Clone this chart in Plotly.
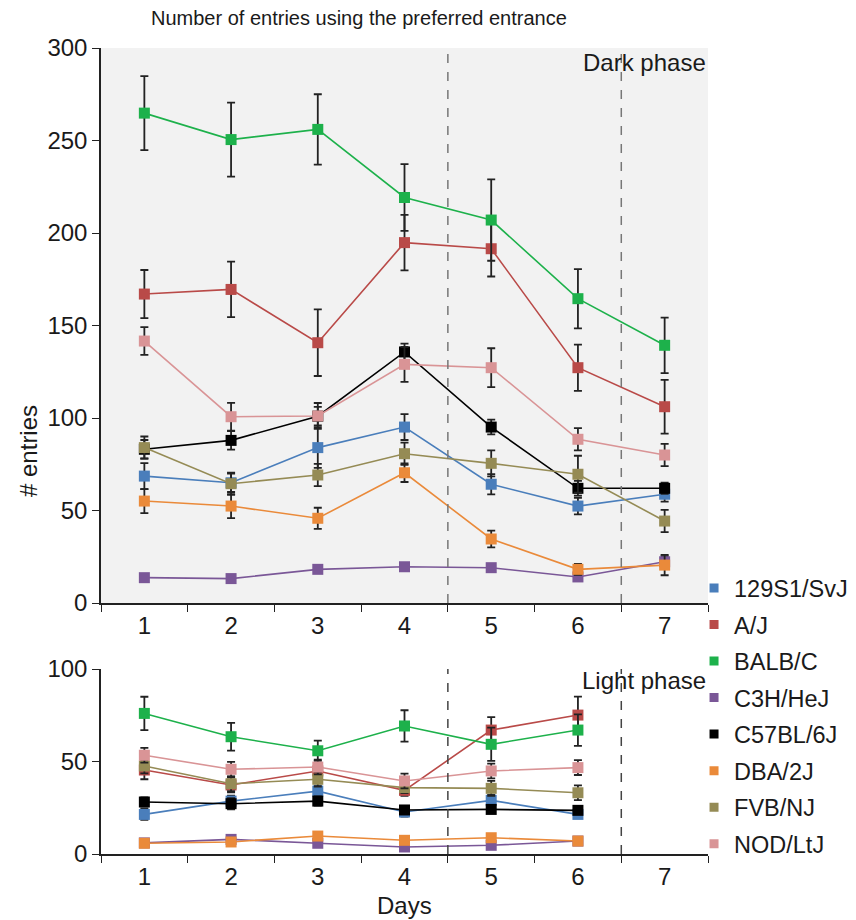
import plotly.graph_objects as go
from plotly.subplots import make_subplots

days = ["1", "2", "3", "4", "5", "6", "7"]
strains = ["129S1/SvJ", "A/J", "BALB/C", "C3H/HeJ", "C57BL/6J", "DBA/2J", "FVB/NJ", "NOD/LtJ"]
colors = ["#4a7ebb", "#b94a48", "#1db14b", "#7a5797", "#000000", "#ea8a3a", "#958b55", "#d99496"]

# Dark phase (days 1-7)
dark_129 = [68.6, 65.0, 84.0, 95.1, 64.2, 52.4, 58.8]
dark_aj = [167, 169.5, 140.7, 194.8, 191.5, 127.2, 106.1]
dark_balb = [264.8, 250.5, 256.0, 219.2, 207.0, 164.5, 139.3]
dark_c3h = [13.7, 13.2, 18.2, 19.6, 19.1, 14.1, 22.3]
dark_c57 = [83.1, 87.9, 101.0, 135.7, 95.1, 62.0, 62.0]
dark_dba = [55.1, 52.4, 45.8, 70.4, 34.6, 18.2, 20.5]
dark_fvb = [84.0, 64.5, 69.2, 80.7, 75.5, 69.6, 44.3]
dark_nod = [141.6, 100.7, 101.1, 129.0, 127.2, 88.5, 80.0]

dark_129_err = [7, 5, 11, 7, 5.5, 4.5, 4]
dark_aj_err = [13, 15, 18, 15, 15, 12.5, 14.5]
dark_balb_err = [20, 20, 19, 18, 22, 16, 15]
dark_c3h_err = [1.5, 1.5, 1.5, 1.5, 1.5, 2, 3]
dark_c57_err = [5, 5, 5, 4.5, 4, 4, 3]
dark_dba_err = [6.5, 6.5, 5.7, 5, 4.5, 3, 5.5]
dark_fvb_err = [6, 6, 6, 6, 7, 10, 6]
dark_nod_err = [7.5, 7.5, 7, 9.5, 10.5, 6, 6]

# Light phase (days 1-6)
light_129 = [21.4, 28.6, 34.0, 22.7, 29.0, 21.4]
light_aj = [45.4, 37.3, 44.9, 34.4, 67.0, 75.1]
light_balb = [76.0, 63.4, 55.8, 69.2, 59.3, 67.0]
light_c3h = [6.0, 7.9, 5.8, 3.8, 4.7, 7.0]
light_c57 = [28.1, 27.2, 28.6, 23.8, 24.1, 23.6]
light_dba = [5.8, 6.5, 9.7, 7.4, 8.8, 7.0]
light_fvb = [47.6, 38.0, 40.4, 35.9, 35.5, 33.1]
light_nod = [53.4, 45.8, 47.0, 39.5, 44.9, 46.7]

light_129_err = [3, 3, 3, 2.5, 3, 2]
light_aj_err = [5, 4, 4, 3, 7, 10]
light_balb_err = [9, 7.5, 5.5, 8.5, 9, 8.5]
light_c3h_err = [1, 1, 1, 1, 1, 1]
light_c57_err = [2.5, 3, 2.5, 2, 2, 2]
light_dba_err = [1, 1, 1, 1, 1, 1]
light_fvb_err = [4, 4, 4, 3, 4, 4]
light_nod_err = [4, 4, 4, 4, 4, 4]

dark_vals = [dark_129, dark_aj, dark_balb, dark_c3h, dark_c57, dark_dba, dark_fvb, dark_nod]
dark_errs = [dark_129_err, dark_aj_err, dark_balb_err, dark_c3h_err, dark_c57_err, dark_dba_err, dark_fvb_err, dark_nod_err]
light_vals = [light_129, light_aj, light_balb, light_c3h, light_c57, light_dba, light_fvb, light_nod]
light_errs = [light_129_err, light_aj_err, light_balb_err, light_c3h_err, light_c57_err, light_dba_err, light_fvb_err, light_nod_err]

phase_boundaries = [3.5, 5.5]  # category-index positions of the dashed separators

FONT = "Liberation Sans, Arial, sans-serif"
TXT = "#1a1a1a"
FS = 24

fig = make_subplots(rows=2, cols=1, shared_xaxes=False, vertical_spacing=0.08,
                    row_heights=[0.75, 0.25])

def add_series(vals, errs, row):
    for name, v, e, c in zip(strains, vals, errs, colors):
        fig.add_trace(go.Scatter(
            x=days[:len(v)], y=v, mode="lines+markers", name=name,
            line=dict(color=c, width=1.6),
            marker=dict(symbol="square", size=11, color=c),
            error_y=dict(type="data", array=e, visible=True, color="#222222",
                         thickness=1.8, width=4),
            showlegend=False,
        ), row=row, col=1)

add_series(dark_vals, dark_errs, 1)
add_series(light_vals, light_errs, 2)

# legend entries (square only)
for i, (name, c) in enumerate(zip(strains, colors)):
    fig.add_trace(go.Scatter(
        x=[None], y=[None], mode="markers", name=name, legendgroup=name,
        marker=dict(symbol="square", size=9, color=c), showlegend=True,
    ), row=1, col=1)

axis_common = dict(
    type="category", categoryarray=days, categoryorder="array", range=[-0.5, 6.5],
    showline=True, linecolor="#222222", linewidth=1.5, showgrid=False, zeroline=False,
    ticks="outside", tickson="boundaries", ticklen=7, tickwidth=1.2, tickcolor="#222222",
    tickfont=dict(family=FONT, size=FS, color=TXT),
)
fig.update_xaxes(**axis_common, row=1, col=1)
fig.update_xaxes(**axis_common, row=2, col=1)

yaxis_common = dict(
    showline=True, linecolor="#222222", linewidth=1.5, showgrid=False, zeroline=False,
    ticks="outside", ticklen=7, tickwidth=1.2, tickcolor="#222222",
    tickfont=dict(family=FONT, size=FS, color=TXT),
)
fig.update_yaxes(**yaxis_common, range=[0, 300], tickvals=[0, 50, 100, 150, 200, 250, 300], row=1, col=1)
fig.update_yaxes(**yaxis_common, range=[0, 100], tickvals=[0, 50, 100], row=2, col=1)

fig.update_layout(
    width=848, height=912,
    margin=dict(l=93, r=148, t=40, b=66, autoexpand=False),
    plot_bgcolor="white", paper_bgcolor="white",
    font=dict(family=FONT, size=FS, color=TXT),
    legend=dict(xref="container", yref="container", x=0.809, xanchor="left", y=0.388, yanchor="top",
                font=dict(family=FONT, size=23.5, color=TXT),
                tracegroupgap=3, itemwidth=30, bgcolor="rgba(0,0,0,0)"),
    showlegend=True,
)

# exact domains
fig.update_layout(
    yaxis=dict(domain=[0.3114, 1.0]),
    yaxis2=dict(domain=[0.0, 0.2295]),
)

# grey background of the top (dark phase) panel
fig.add_shape(type="rect", xref="x domain", yref="y domain", x0=0, x1=1, y0=0, y1=1,
              fillcolor="#f2f2f2", line=dict(width=0), layer="below")

for xb in phase_boundaries:
    fig.add_shape(type="line", xref="x", yref="y domain", x0=xb, x1=xb, y0=0, y1=1,
                  line=dict(color="#777777", width=1.5, dash="dash"))
    fig.add_shape(type="line", xref="x2", yref="y2 domain", x0=xb, x1=xb, y0=0, y1=1,
                  line=dict(color="#444444", width=1.5, dash="dash"))

fig.add_annotation(text="Dark phase", xref="x domain", yref="y domain", x=1.0, y=1.0, yshift=1,
                   xanchor="right", yanchor="top", showarrow=False,
                   font=dict(family=FONT, size=FS, color=TXT))
fig.add_annotation(text="Light phase", xref="x2 domain", yref="y2 domain", x=1.0, y=1.0, yshift=4,
                   xanchor="right", yanchor="top", showarrow=False,
                   font=dict(family=FONT, size=FS, color=TXT))
fig.add_annotation(text="Number of entries using the preferred entrance", xref="paper", yref="paper",
                   x=0.425, y=1.0, yshift=30, xanchor="center", yanchor="middle", showarrow=False,
                   font=dict(family=FONT, size=20, color=TXT))
fig.add_annotation(text="# entries", xref="paper", yref="paper", x=0, xshift=-73, y=0.5,
                   textangle=-90, xanchor="center", yanchor="middle", showarrow=False,
                   font=dict(family=FONT, size=FS, color=TXT))
fig.add_annotation(text="Days", xref="paper", yref="paper", x=0.5, y=0, yshift=-51,
                   xanchor="center", yanchor="middle", showarrow=False,
                   font=dict(family=FONT, size=FS, color=TXT))

fig.write_html("out.html")
